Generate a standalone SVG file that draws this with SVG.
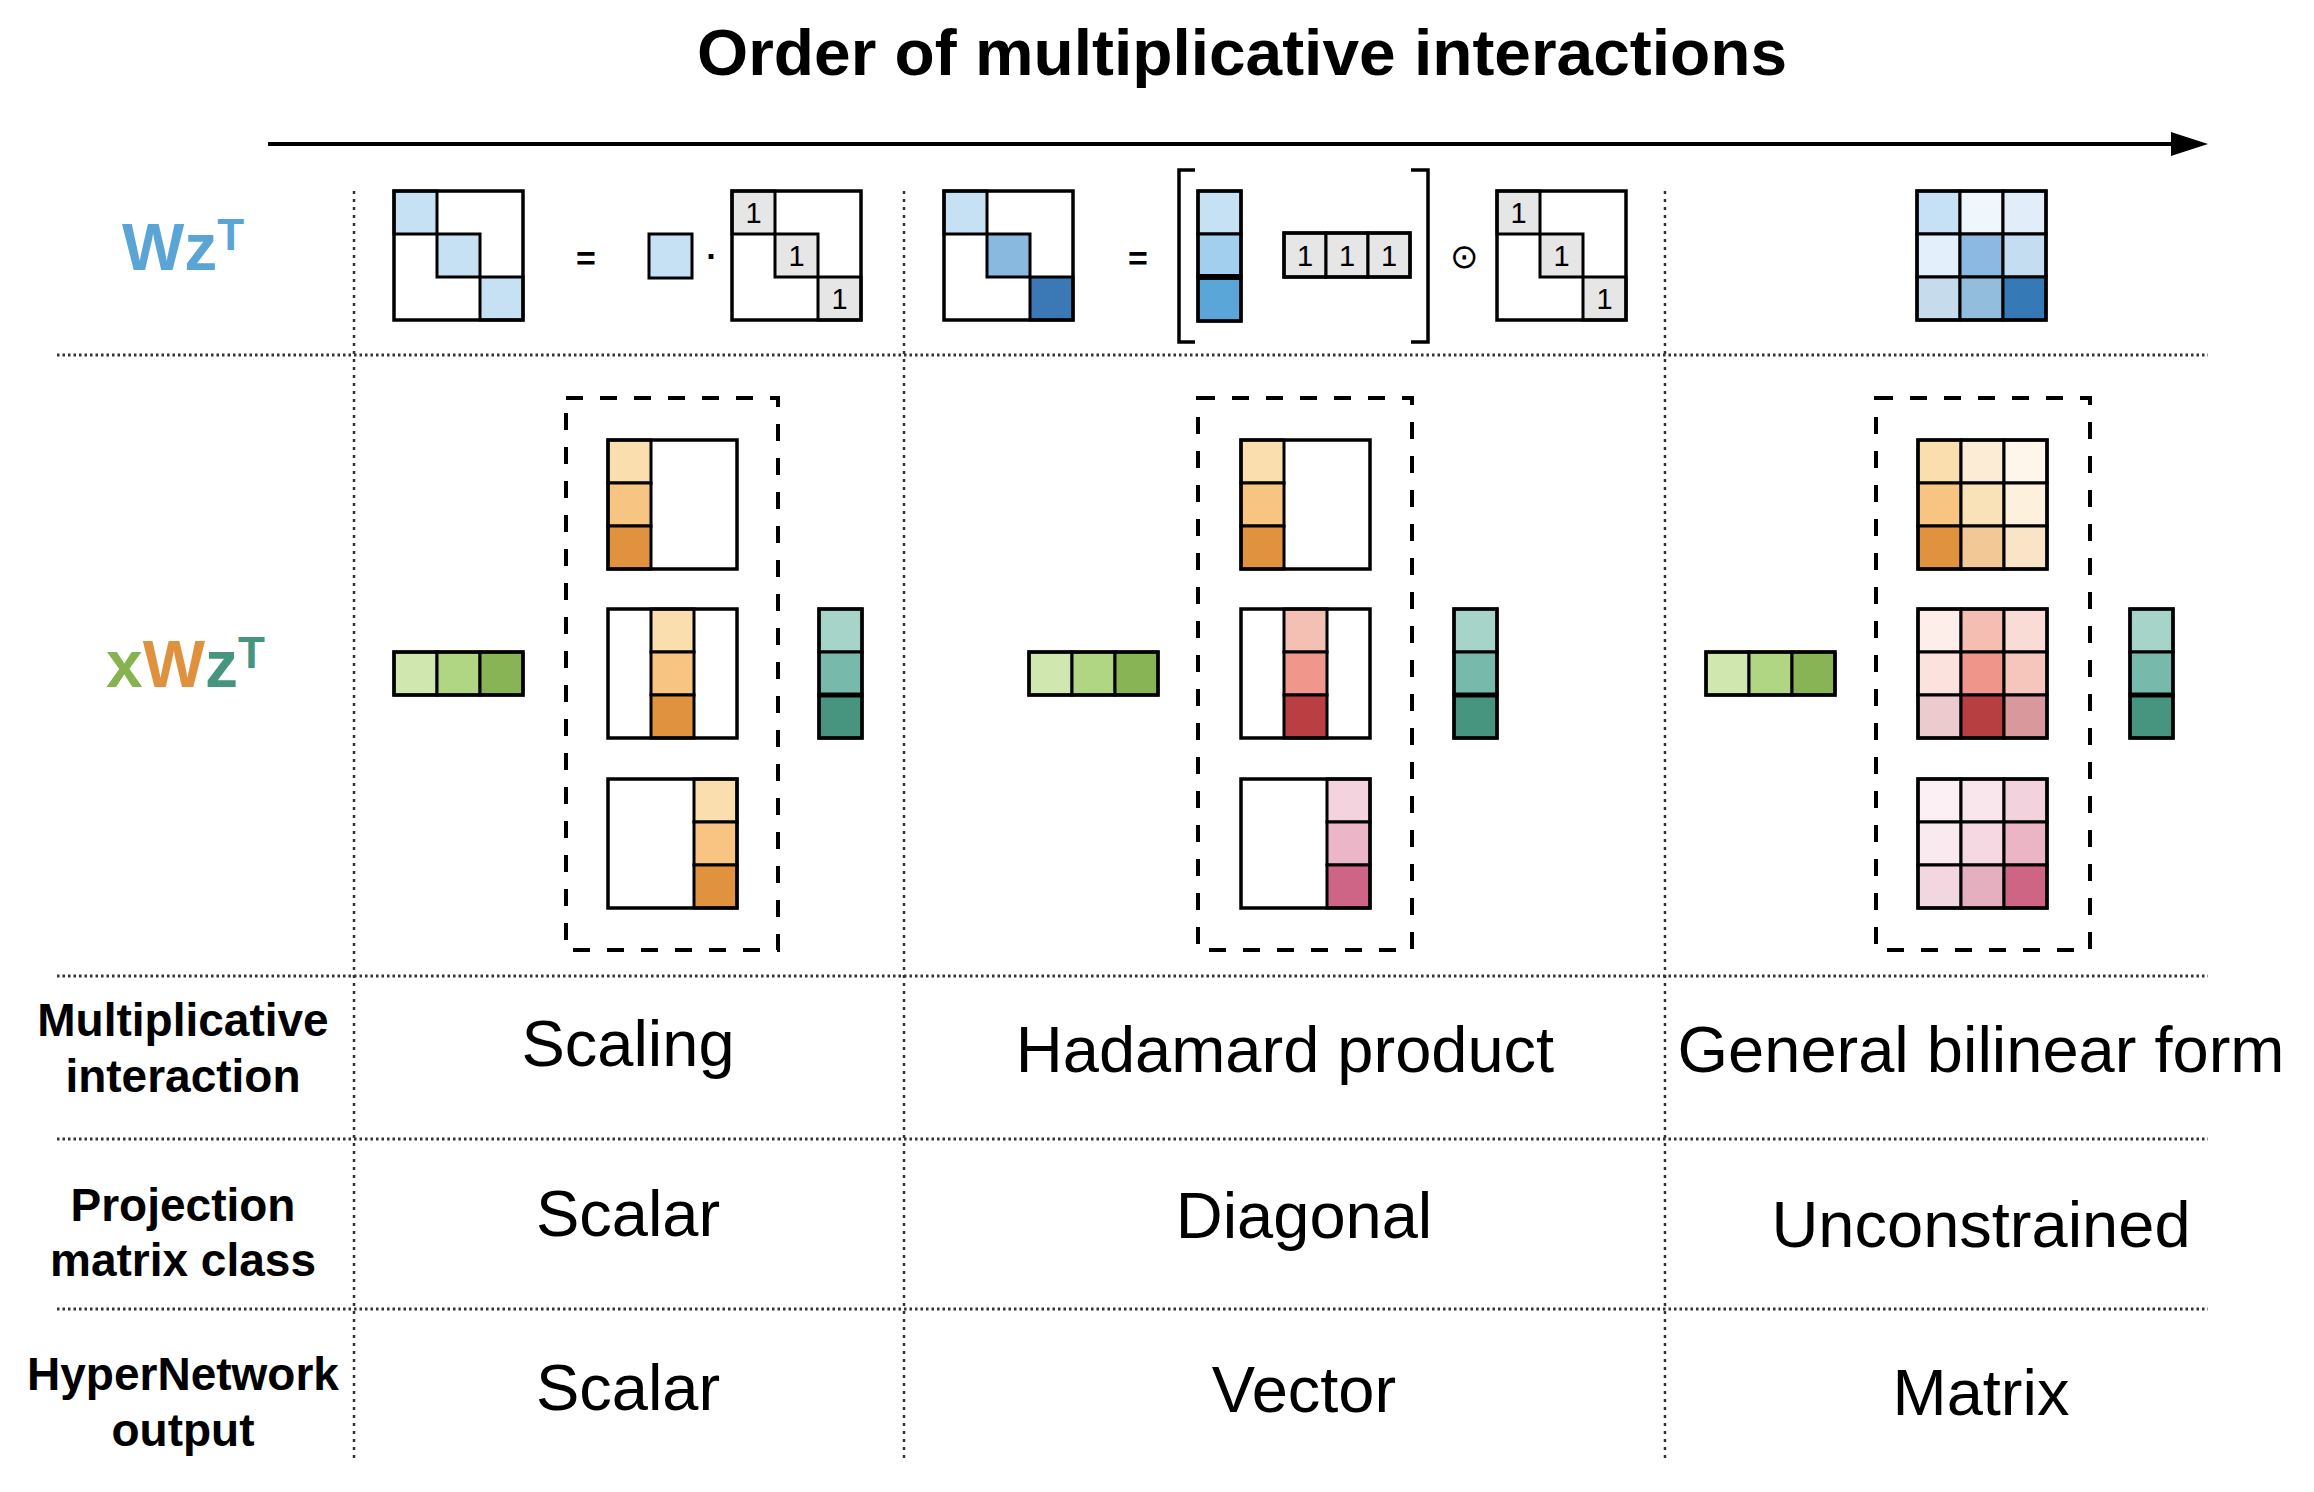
<svg xmlns="http://www.w3.org/2000/svg" width="2314" height="1492" viewBox="0 0 2314 1492">
<style>
text{font-family:"Liberation Sans",Arial,sans-serif}
.frame{fill:none;stroke:#000;stroke-width:3.5}
.cell{stroke:#000;stroke-width:3}
.dash{fill:none;stroke:#000;stroke-width:4;stroke-dasharray:17 17}
.vgrid{stroke:#333;stroke-width:2.5;stroke-dasharray:3 5;fill:none}
.hgrid{stroke:#333;stroke-width:3;stroke-dasharray:2.5 3;fill:none}
.one{font-size:29px;text-anchor:middle}
.lbl{font-weight:bold;font-size:46px;text-anchor:middle}
.val{font-size:65px;text-anchor:middle}
.sym{font-weight:bold;font-size:34px;text-anchor:middle}
.g1{fill:#d0e7b0}.g2{fill:#b0d684}.g3{fill:#88b456}
.t1{fill:#a7d4c9}.t2{fill:#77b9ab}.t3{fill:#47957f}
.o1{fill:#fbdeae}.o2{fill:#f7c581}.o3{fill:#e0923f}
.r1{fill:#f4c0b3}.r2{fill:#f0968a}.r3{fill:#b93f42}
.p1{fill:#f2d3de}.p2{fill:#ebb6c7}.p3{fill:#ce6586}
.b1{fill:#c6e0f4}.gr{fill:#e6e6e6}
</style>
<defs>
<marker id="ah" viewBox="0 0 37 24" refX="1" refY="12" markerWidth="37" markerHeight="24" markerUnits="userSpaceOnUse" orient="auto">
<path d="M0,0 L37,12 L0,24 z" fill="#000"/>
</marker>
</defs>
<rect width="2314" height="1492" fill="#fff"/>

<g id="title">
<text x="1242" y="75" font-size="64" font-weight="bold" text-anchor="middle" textLength="1090" lengthAdjust="spacingAndGlyphs">Order of multiplicative interactions</text>
</g>

<g id="connectors">
<line x1="268" y1="144" x2="2172" y2="144" stroke="#000" stroke-width="4" marker-end="url(#ah)"/>
</g>

<g id="grid">
<line class="vgrid" x1="354" y1="191" x2="354" y2="1460"/>
<line class="vgrid" x1="904" y1="191" x2="904" y2="1460"/>
<line class="vgrid" x1="1665" y1="191" x2="1665" y2="1460"/>
<line class="hgrid" x1="57" y1="355" x2="2208" y2="355"/>
<line class="hgrid" x1="57" y1="976" x2="2208" y2="976"/>
<line class="hgrid" x1="57" y1="1139" x2="2208" y2="1139"/>
<line class="hgrid" x1="57" y1="1309" x2="2208" y2="1309"/>
</g>

<g id="row-labels">
<text x="122" y="270" font-size="66" font-weight="bold" fill="#5aa5d6">Wz<tspan font-size="44" dy="-20">T</tspan></text>
<text x="106" y="687" font-size="66" font-weight="bold"><tspan fill="#86b350">x</tspan><tspan fill="#e0913e">W</tspan><tspan fill="#46957e">z</tspan><tspan fill="#46957e" font-size="44" dy="-19">T</tspan></text>
<text class="lbl" x="183" y="1036">Multiplicative</text>
<text class="lbl" x="183" y="1092">interaction</text>
<text class="lbl" x="183" y="1221">Projection</text>
<text class="lbl" x="183" y="1276">matrix class</text>
<text class="lbl" x="183" y="1390">HyperNetwork</text>
<text class="lbl" x="183" y="1446">output</text>
</g>

<g id="wz-scaling">
<rect class="cell b1" x="394" y="191" width="43" height="43"/>
<rect class="cell b1" x="437" y="234" width="43" height="43"/>
<rect class="cell b1" x="480" y="277" width="43" height="43"/>
<rect class="frame" x="394" y="191" width="129" height="129"/>
<text class="sym" x="586" y="270">=</text>
<rect class="cell b1" x="649" y="234" width="43" height="44"/>
<text class="sym" x="712" y="268">·</text>
<rect class="cell gr" x="732" y="191" width="43" height="43"/>
<rect class="cell gr" x="775" y="234" width="43" height="43"/>
<rect class="cell gr" x="818" y="277" width="43" height="43"/>
<rect class="frame" x="732" y="191" width="129" height="129"/>
<text class="one" x="753.5" y="223">1</text>
<text class="one" x="796.5" y="266">1</text>
<text class="one" x="839.5" y="309">1</text>
</g>

<g id="wz-hadamard">
<rect class="cell b1" x="944" y="191" width="43" height="43"/>
<rect class="cell" fill="#8ab9e0" x="987" y="234" width="43" height="43"/>
<rect class="cell" fill="#3a79b6" x="1030" y="277" width="43" height="43"/>
<rect class="frame" x="944" y="191" width="129" height="129"/>
<text class="sym" x="1138" y="270">=</text>
<path d="M1195,170 H1179 V342 H1195" fill="none" stroke="#000" stroke-width="3.5"/>
<rect class="cell b1" x="1198" y="191" width="43" height="43"/>
<rect class="cell" fill="#a3cfee" x="1198" y="234" width="43" height="43"/>
<rect class="cell" fill="#5ba6d8" x="1198" y="277" width="43" height="44"/>
<line x1="1198" y1="277" x2="1241" y2="277" stroke="#000" stroke-width="6"/>
<rect class="frame" x="1198" y="191" width="43" height="130"/>
<rect class="cell gr" x="1284" y="233" width="42" height="44"/>
<rect class="cell gr" x="1326" y="233" width="42" height="44"/>
<rect class="cell gr" x="1368" y="233" width="42" height="44"/>
<rect class="frame" x="1284" y="233" width="126" height="44"/>
<text class="one" x="1305" y="266">1</text>
<text class="one" x="1347" y="266">1</text>
<text class="one" x="1389" y="266">1</text>
<path d="M1411,170 H1428 V342 H1411" fill="none" stroke="#000" stroke-width="3.5"/>
<text x="1464" y="268" font-family="DejaVu Sans,sans-serif" font-size="34" text-anchor="middle">⊙</text>
<rect class="cell gr" x="1497" y="191" width="43" height="43"/>
<rect class="cell gr" x="1540" y="234" width="43" height="43"/>
<rect class="cell gr" x="1583" y="277" width="43" height="43"/>
<rect class="frame" x="1497" y="191" width="129" height="129"/>
<text class="one" x="1518.5" y="223">1</text>
<text class="one" x="1561.5" y="266">1</text>
<text class="one" x="1604.5" y="309">1</text>
</g>

<g id="wz-general">
<rect class="cell" fill="#c6e1f5" x="1917" y="191" width="43" height="43"/>
<rect class="cell" fill="#eff7fd" x="1960" y="191" width="43" height="43"/>
<rect class="cell" fill="#e1eefa" x="2003" y="191" width="43" height="43"/>
<rect class="cell" fill="#e3effa" x="1917" y="234" width="43" height="43"/>
<rect class="cell" fill="#8cb9e1" x="1960" y="234" width="43" height="43"/>
<rect class="cell" fill="#c5ddf1" x="2003" y="234" width="43" height="43"/>
<rect class="cell" fill="#c6dced" x="1917" y="277" width="43" height="43"/>
<rect class="cell" fill="#92bddd" x="1960" y="277" width="43" height="43"/>
<rect class="cell" fill="#3579b6" x="2003" y="277" width="43" height="43"/>
<rect class="frame" x="1917" y="191" width="129" height="129"/>
</g>

<g id="xwz-scaling">
<rect class="cell g1" x="394" y="652" width="43" height="43"/>
<rect class="cell g2" x="437" y="652" width="43" height="43"/>
<rect class="cell g3" x="480" y="652" width="43" height="43"/>
<rect class="frame" x="394" y="652" width="129" height="43"/>
<rect class="dash" x="566" y="398" width="212" height="552"/>
<rect class="cell o1" x="608" y="440" width="43" height="43"/>
<rect class="cell o2" x="608" y="483" width="43" height="43"/>
<rect class="cell o3" x="608" y="526" width="43" height="43"/>
<rect class="frame" x="608" y="440" width="129" height="129"/>
<rect class="cell o1" x="651" y="609" width="43" height="43"/>
<rect class="cell o2" x="651" y="652" width="43" height="43"/>
<rect class="cell o3" x="651" y="695" width="43" height="43"/>
<rect class="frame" x="608" y="609" width="129" height="129"/>
<rect class="cell o1" x="694" y="779" width="43" height="43"/>
<rect class="cell o2" x="694" y="822" width="43" height="43"/>
<rect class="cell o3" x="694" y="865" width="43" height="43"/>
<rect class="frame" x="608" y="779" width="129" height="129"/>
<rect class="cell t1" x="819" y="609" width="43" height="43"/>
<rect class="cell t2" x="819" y="652" width="43" height="43"/>
<rect class="cell t3" x="819" y="695" width="43" height="43"/>
<line x1="819" y1="695" x2="862" y2="695" stroke="#000" stroke-width="5"/>
<rect class="frame" x="819" y="609" width="43" height="129"/>
</g>

<g id="xwz-hadamard">
<rect class="cell g1" x="1029" y="652" width="43" height="43"/>
<rect class="cell g2" x="1072" y="652" width="43" height="43"/>
<rect class="cell g3" x="1115" y="652" width="43" height="43"/>
<rect class="frame" x="1029" y="652" width="129" height="43"/>
<rect class="dash" x="1198" y="398" width="214" height="552"/>
<rect class="cell o1" x="1241" y="440" width="43" height="43"/>
<rect class="cell o2" x="1241" y="483" width="43" height="43"/>
<rect class="cell o3" x="1241" y="526" width="43" height="43"/>
<rect class="frame" x="1241" y="440" width="129" height="129"/>
<rect class="cell r1" x="1284" y="609" width="43" height="43"/>
<rect class="cell r2" x="1284" y="652" width="43" height="43"/>
<rect class="cell r3" x="1284" y="695" width="43" height="43"/>
<rect class="frame" x="1241" y="609" width="129" height="129"/>
<rect class="cell p1" x="1327" y="779" width="43" height="43"/>
<rect class="cell p2" x="1327" y="822" width="43" height="43"/>
<rect class="cell p3" x="1327" y="865" width="43" height="43"/>
<rect class="frame" x="1241" y="779" width="129" height="129"/>
<rect class="cell t1" x="1454" y="609" width="43" height="43"/>
<rect class="cell t2" x="1454" y="652" width="43" height="43"/>
<rect class="cell t3" x="1454" y="695" width="43" height="43"/>
<line x1="1454" y1="695" x2="1497" y2="695" stroke="#000" stroke-width="5"/>
<rect class="frame" x="1454" y="609" width="43" height="129"/>
</g>

<g id="xwz-general">
<rect class="cell g1" x="1706" y="652" width="43" height="43"/>
<rect class="cell g2" x="1749" y="652" width="43" height="43"/>
<rect class="cell g3" x="1792" y="652" width="43" height="43"/>
<rect class="frame" x="1706" y="652" width="129" height="43"/>
<rect class="dash" x="1876" y="398" width="214" height="552"/>
<rect class="cell" fill="#fbdeae" x="1918" y="440" width="43" height="43"/>
<rect class="cell" fill="#fcecd6" x="1961" y="440" width="43" height="43"/>
<rect class="cell" fill="#fef6ea" x="2004" y="440" width="43" height="43"/>
<rect class="cell" fill="#f7c581" x="1918" y="483" width="43" height="43"/>
<rect class="cell" fill="#fae2b8" x="1961" y="483" width="43" height="43"/>
<rect class="cell" fill="#fdf0dc" x="2004" y="483" width="43" height="43"/>
<rect class="cell" fill="#e0923f" x="1918" y="526" width="43" height="43"/>
<rect class="cell" fill="#f1c896" x="1961" y="526" width="43" height="43"/>
<rect class="cell" fill="#f9e4c8" x="2004" y="526" width="43" height="43"/>
<rect class="frame" x="1918" y="440" width="129" height="129"/>
<rect class="cell" fill="#fdeeea" x="1918" y="609" width="43" height="43"/>
<rect class="cell" fill="#f4bfb2" x="1961" y="609" width="43" height="43"/>
<rect class="cell" fill="#f9dcd6" x="2004" y="609" width="43" height="43"/>
<rect class="cell" fill="#fbe2dc" x="1918" y="652" width="43" height="43"/>
<rect class="cell" fill="#f0958a" x="1961" y="652" width="43" height="43"/>
<rect class="cell" fill="#f6c5bb" x="2004" y="652" width="43" height="43"/>
<rect class="cell" fill="#ebcbcd" x="1918" y="695" width="43" height="43"/>
<rect class="cell" fill="#b83f41" x="1961" y="695" width="43" height="43"/>
<rect class="cell" fill="#d9999c" x="2004" y="695" width="43" height="43"/>
<rect class="frame" x="1918" y="609" width="129" height="129"/>
<rect class="cell" fill="#fcf0f4" x="1918" y="779" width="43" height="43"/>
<rect class="cell" fill="#f9e6ec" x="1961" y="779" width="43" height="43"/>
<rect class="cell" fill="#f2d2dd" x="2004" y="779" width="43" height="43"/>
<rect class="cell" fill="#f9eaf0" x="1918" y="822" width="43" height="43"/>
<rect class="cell" fill="#f4d8e2" x="1961" y="822" width="43" height="43"/>
<rect class="cell" fill="#ebb5c6" x="2004" y="822" width="43" height="43"/>
<rect class="cell" fill="#f2d6e0" x="1918" y="865" width="43" height="43"/>
<rect class="cell" fill="#e4b0c0" x="1961" y="865" width="43" height="43"/>
<rect class="cell" fill="#cf6585" x="2004" y="865" width="43" height="43"/>
<rect class="frame" x="1918" y="779" width="129" height="129"/>
<rect class="cell t1" x="2130" y="609" width="43" height="43"/>
<rect class="cell t2" x="2130" y="652" width="43" height="43"/>
<rect class="cell t3" x="2130" y="695" width="43" height="43"/>
<line x1="2130" y1="695" x2="2173" y2="695" stroke="#000" stroke-width="5"/>
<rect class="frame" x="2130" y="609" width="43" height="129"/>
</g>

<g id="table-values">
<text class="val" x="628" y="1066">Scaling</text>
<text class="val" x="1285" y="1072">Hadamard product</text>
<text class="val" x="1981" y="1072">General bilinear form</text>
<text class="val" x="628" y="1236">Scalar</text>
<text class="val" x="1304" y="1238">Diagonal</text>
<text class="val" x="1981" y="1247">Unconstrained</text>
<text class="val" x="628" y="1410">Scalar</text>
<text class="val" x="1304" y="1412">Vector</text>
<text class="val" x="1981" y="1415">Matrix</text>
</g>
</svg>
